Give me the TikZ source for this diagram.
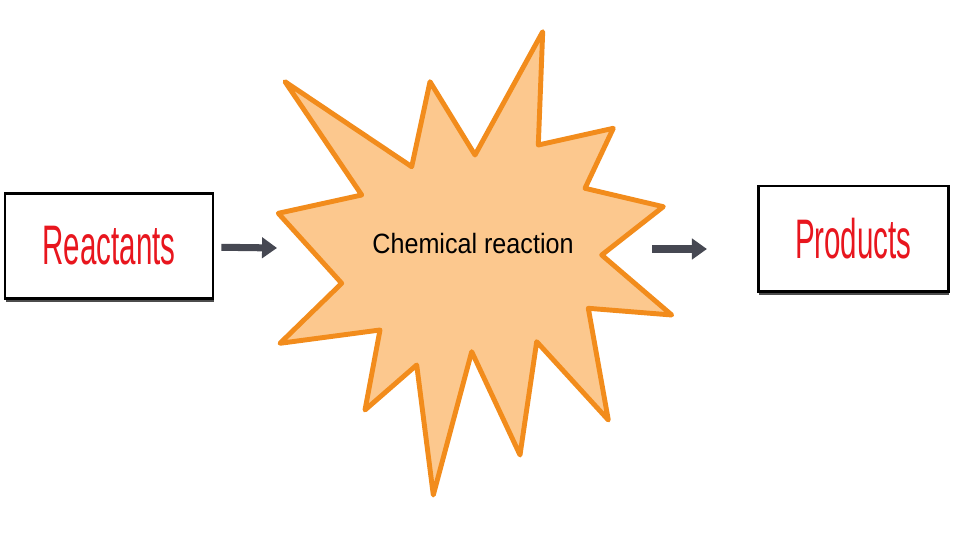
\documentclass[tikz,border=0pt]{standalone}
\usepackage{fontspec}
\usepackage{tikz}
\usetikzlibrary{arrows.meta,shadows}
\setmainfont{Liberation Sans}
\newfontfamily\handfont[FakeStretch=0.53]{Liberation Sans}
\definecolor{starfill}{RGB}{252,200,142}
\definecolor{starline}{RGB}{242,140,28}
\definecolor{arrowgray}{RGB}{70,72,82}
\definecolor{labelred}{RGB}{232,22,30}
\tikzset{
	box/.style={draw=black, line width=1.6pt, fill=white, inner sep=0pt,
		drop shadow={shadow xshift=0.6pt, shadow yshift=-2.2pt, fill=black!70, opacity=1},
		font=\handfont\fontsize{31.7}{36}\selectfont, text=labelred},
	flow/.style={draw=arrowgray, line width=4pt, -{Triangle[length=8.5pt, width=11.5pt]}},
	burst/.style={draw=starline, fill=starfill, line width=2.8pt, line join=round},
}

\begin{document}
\begin{tikzpicture}[x=0.02cm, y=-0.02cm]
	\useasboundingbox (0,0) rectangle (960,540);
	
	\draw[burst] (542.7,31.7) -- (538.3,145) -- (613.3,128.3) -- (585,188.3) -- (663.3,206.7)
		-- (601.7,255) -- (671.7,315) -- (588.3,308.3) -- (608.3,420) -- (536.7,341.7)
		-- (520,455) -- (471.7,351.7) -- (433.3,495) -- (416.7,365) -- (365,410)
		-- (380,330) -- (280,343.3) -- (341.7,283.3) -- (278.3,213.3) -- (361.7,195)
		-- (285,81.7) -- (411.7,166.7) -- (430,81.7) -- (475,155) -- cycle;
	
	\node[box, minimum width=4.16cm, minimum height=2.1cm] (reac) at (109,245.8) {Reactants};
	\node[box, minimum width=3.8cm, minimum height=2.11cm] (prod) at (853.3,238.8) {Products};
	\node[font=\fontsize{15.9}{18}\selectfont\addfontfeature{FakeStretch=0.9}] (chem) at (473,244) {Chemical reaction};
	
	\coordinate (in) at (277,248);
	\coordinate (out) at (652,249);
	
	\draw[flow, shorten <=0.14cm] (reac) -- (in);
	\draw[flow, shorten >=1cm] (out) -- (prod.west |- out);
\end{tikzpicture}
\end{document}
